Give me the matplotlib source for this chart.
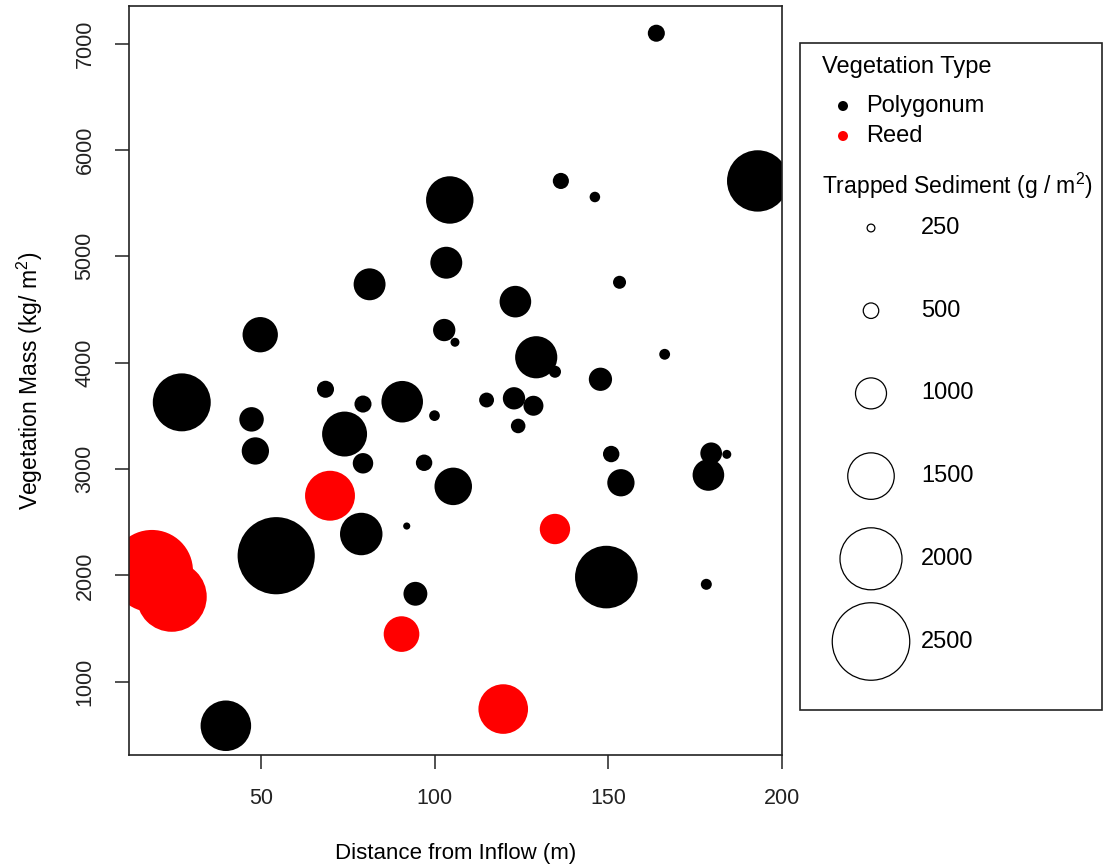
#!/usr/bin/env python3
"""Bubble chart: vegetation mass vs distance from inflow, sized by trapped sediment."""

import matplotlib
matplotlib.use("Agg")
import matplotlib.pyplot as plt
from matplotlib.patches import Rectangle

plt.rcParams['font.family'] = ['Liberation Sans', 'DejaVu Sans']
plt.rcParams['mathtext.fontset'] = 'custom'
plt.rcParams['mathtext.rm'] = 'Liberation Sans'
plt.rcParams['mathtext.it'] = 'Liberation Sans'

# Polygonum points: distance (m), vegetation mass (kg/m2), trapped sediment (g/m2)
poly_dist = [163.8, 193.0, 104.3, 136.3, 146.1, 103.3, 81.2, 153.2, 123.2, 49.7,
             102.7, 105.8, 134.6, 129.2, 166.2, 147.7, 27.1, 68.5, 79.3, 90.6,
             99.9, 114.9, 122.8, 128.4, 124.0, 47.2, 48.3, 74.0, 79.3, 96.9,
             105.3, 150.8, 153.6, 179.6, 184.1, 178.8, 78.8, 91.9, 54.3, 149.4,
             178.2, 94.4, 39.8]
poly_mass = [7098, 5709, 5530, 5709, 5558, 4940, 4737, 4756, 4574, 4263,
             4307, 4192, 3915, 4051, 4079, 3844, 3627, 3750, 3611, 3633,
             3502, 3649, 3665, 3595, 3405, 3467, 3170, 3329, 3054, 3059,
             2837, 3141, 2871, 3148, 3138, 2944, 2389, 2464, 2185, 1984,
             1916, 1827, 586]
poly_sed = [550, 1980, 1530, 520, 340, 1030, 1030, 420, 1020, 1140,
            720, 290, 390, 1360, 350, 750, 1870, 550, 550, 1340,
            345, 480, 720, 645, 470, 790, 880, 1450, 660, 530,
            1210, 530, 880, 700, 290, 1020, 1370, 230, 2490, 2020,
            355, 770, 1630]

# Reed points
reed_dist = [69.8, 134.6, 18.5, 24.2, 90.4, 119.7]
reed_mass = [2749, 2436, 2041, 1799, 1448, 743]
reed_sed = [1610, 980, 2650, 2260, 1150, 1600]

legend_sed = [250, 500, 1000, 1500, 2000, 2500]

DPI = 100
W, H = 1104, 867


def sed_to_s(values):
    """Bubble diameter proportional to sediment -> scatter area in pt^2."""
    return [(0.031 * v * 72 / DPI) ** 2 for v in values]


fig = plt.figure(figsize=(W / DPI, H / DPI), dpi=DPI)
ax = fig.add_axes([129 / W, 1 - 755 / H, (782 - 129) / W, (755 - 6) / H])

sc1 = ax.scatter(poly_dist, poly_mass, s=sed_to_s(poly_sed), c='black', linewidths=0)
sc2 = ax.scatter(reed_dist, reed_mass, s=sed_to_s(reed_sed), c='#ff0000', linewidths=0)
for sc in (sc1, sc2):
    sc.set_clip_path(ax.patch)

ax.set_xlim(11.9, 200)
ax.set_ylim(311, 7354)
ax.set_xticks([50, 100, 150, 200])
ax.set_yticks([1000, 2000, 3000, 4000, 5000, 6000, 7000])
ax.tick_params(length=10, width=1.1, pad=14, labelsize=15.5, colors='#222222')
for lab in ax.get_yticklabels():
    lab.set_rotation(90)
    lab.set_va('center')
for sp in ax.spines.values():
    sp.set_linewidth(1.2)
    sp.set_color('#222222')

ax.set_xlabel('Distance from Inflow (m)', fontsize=16, va='center')
ax.xaxis.set_label_coords(0.5, (755 - 853) / (755 - 6))
ax.set_ylabel('Vegetation Mass (kg/ m$^2$)', fontsize=16.5, va='center')
ax.yaxis.set_label_coords((30 - 129) / (782 - 129), 0.5)

# legend drawn in a pixel-space overlay
lax = fig.add_axes([0, 0, 1, 1])
lax.set_xlim(0, W)
lax.set_ylim(H, 0)
lax.axis('off')
lax.patch.set_alpha(0)

lax.add_patch(Rectangle((800, 43), 302, 667, fill=False, edgecolor='#222222', linewidth=1.2))
lax.text(822, 67, 'Vegetation Type', fontsize=17, va='center', ha='left')
lax.scatter([843, 843], [106, 136], s=(10 * 72 / DPI) ** 2, c=['black', '#ff0000'], linewidths=0)
lax.text(866, 106, 'Polygonum', fontsize=17, va='center', ha='left')
lax.text(866, 136, 'Reed', fontsize=17, va='center', ha='left')
lax.text(822, 186, 'Trapped Sediment (g / m$^2$)', fontsize=16.5, va='center', ha='left')

leg_y = [228 + 82.7 * i for i in range(len(legend_sed))]
lax.scatter([871] * len(legend_sed), leg_y, s=sed_to_s(legend_sed),
            facecolors='none', edgecolors='black', linewidths=0.9)
for y, v in zip(leg_y, legend_sed):
    lax.text(921, y, str(v), fontsize=17, va='center', ha='left')

fig.savefig('out.png', dpi=DPI)
